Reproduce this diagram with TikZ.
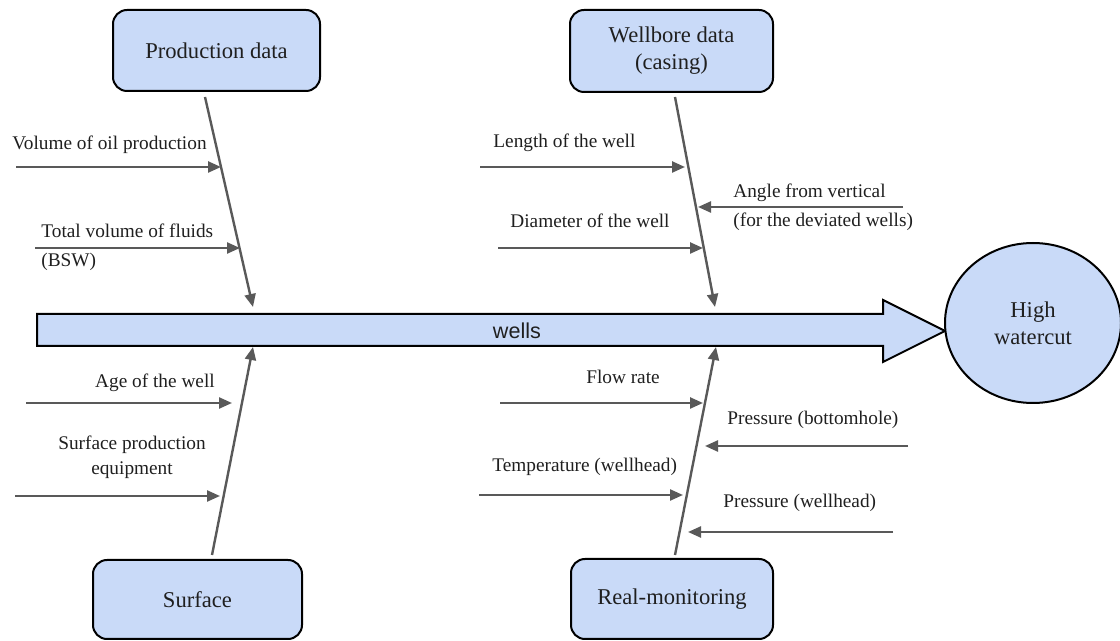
\documentclass[tikz,border=0pt]{standalone}
\usepackage{fontspec}
\setmainfont{Liberation Serif}
\newfontfamily\labelsans{Liberation Sans}
\usetikzlibrary{arrows.meta,shapes.geometric}
\definecolor{boxfill}{HTML}{C9DAF8}
\definecolor{bonegray}{HTML}{595959}
\definecolor{inkdark}{HTML}{1F1F1F}
\tikzset{
  catbox/.style={draw=black, line width=1pt, fill=boxfill, rounded corners=7pt,
    text=inkdark, font=\fontsize{11.3}{13.6}\selectfont, align=center},
  effect/.style={draw=black, line width=1pt, fill=boxfill, ellipse,
    text=inkdark, font=\fontsize{11.3}{13.6}\selectfont, align=center, inner sep=0pt},
  bone/.style={draw=bonegray, line width=1.2pt, -{Triangle[length=6.5pt,width=5.5pt]}},
  cause/.style={draw=bonegray, line width=1.2pt, -{Triangle[length=6.5pt,width=5.5pt]}},
  causetext/.style={text=inkdark, font=\fontsize{9.65}{11.6}\selectfont, inner sep=0pt},
}
\begin{document}
\begin{tikzpicture}[x=0.5pt, y=-0.5pt]
\useasboundingbox (0,0) rectangle (1120,641);

% spine arrow
\fill[boxfill] (37,314) -- (883,314) -- (883,300) -- (945,331) -- (883,362) -- (883,346) -- (37,346) -- cycle;
\draw[black, line width=1pt] (37,314) -- (883,314) -- (883,300) -- (945,331) -- (883,362) -- (883,346) -- (37,346) -- cycle;
\node[text=inkdark, font=\labelsans\fontsize{10.8}{13}\selectfont] (spine) at (517,331) {wells};

% effect
\node[effect, minimum width=88pt, minimum height=80pt] (effect) at (1033,323) {High\\watercut};

% category boxes
\node[catbox, minimum width=103.5pt, minimum height=40.5pt] (prod) at (216.5,50.5) {Production data};
\node[catbox, minimum width=101.5pt, minimum height=41pt] (bore) at (671.5,51) {Wellbore data\\(casing)};
\node[catbox, minimum width=104.5pt, minimum height=39.5pt] (surf) at (197.5,599.5) {Surface};
\node[catbox, minimum width=101pt, minimum height=40pt] (mon) at (672,599) {Real-monitoring};

% bone end points
\coordinate (pA) at (205,97);  \coordinate (pB) at (253,307);
\coordinate (wA) at (675,97);  \coordinate (wB) at (715,307);
\coordinate (sA) at (212,555); \coordinate (sB) at (253,347);
\coordinate (rA) at (675,555); \coordinate (rB) at (716,347);

\draw[bone] (pA) -- (pB);
\draw[bone] (wA) -- (wB);
\draw[bone] (sA) -- (sB);
\draw[bone] (rA) -- (rB);

% cause arrows: production data
\coordinate (vol0) at (16,167);  \coordinate (vol1) at (221,167);
\coordinate (tot0) at (35,248);  \coordinate (tot1) at (240,248);
\draw[cause] (vol0) -- (vol1);
\draw[cause] (tot0) -- (tot1);
\node[causetext, anchor=west] (volT) at (12,145) {Volume of oil production};
\node[causetext, anchor=west, align=left] (totT) at (41,247.5) {Total volume of fluids\\[3pt](BSW)};

% cause arrows: wellbore data
\coordinate (len0) at (480,167); \coordinate (len1) at (685,167);
\coordinate (dia0) at (498,248); \coordinate (dia1) at (703,248);
\coordinate (ang0) at (903,207); \coordinate (ang1) at (698,207);
\draw[cause] (len0) -- (len1);
\draw[cause] (dia0) -- (dia1);
\draw[cause] (ang0) -- (ang1);
\node[causetext, anchor=west] (lenT) at (493,143) {Length of the well};
\node[causetext, anchor=west] (diaT) at (510,221) {Diameter of the well};
\node[causetext, anchor=west, align=left] (angT) at (733,207.5) {Angle from vertical\\[3pt](for the deviated wells)};

% cause arrows: surface
\coordinate (age0) at (26,403);  \coordinate (age1) at (232,403);
\coordinate (eq0) at (15,496);   \coordinate (eq1) at (220,496);
\draw[cause] (age0) -- (age1);
\draw[cause] (eq0) -- (eq1);
\node[causetext] (ageT) at (155,383) {Age of the well};
\node[causetext, align=center] (eqT) at (132,457.5) {Surface production\\[1pt]equipment};

% cause arrows: real-monitoring
\coordinate (flow0) at (500,403); \coordinate (flow1) at (703,403);
\coordinate (temp0) at (479,495); \coordinate (temp1) at (683,495);
\coordinate (pbh0) at (908,446);  \coordinate (pbh1) at (705,446);
\coordinate (pwh0) at (893,532);  \coordinate (pwh1) at (688,532);
\draw[cause] (flow0) -- (flow1);
\draw[cause] (temp0) -- (temp1);
\draw[cause] (pbh0) -- (pbh1);
\draw[cause] (pwh0) -- (pwh1);
\node[causetext] (flowT) at (623,377) {Flow rate};
\node[causetext, anchor=west] (tempT) at (492,467) {Temperature (wellhead)};
\node[causetext, anchor=west] (pbhT) at (727,420) {Pressure (bottomhole)};
\node[causetext, anchor=west] (pwhT) at (723,503) {Pressure (wellhead)};
\end{tikzpicture}
\end{document}
